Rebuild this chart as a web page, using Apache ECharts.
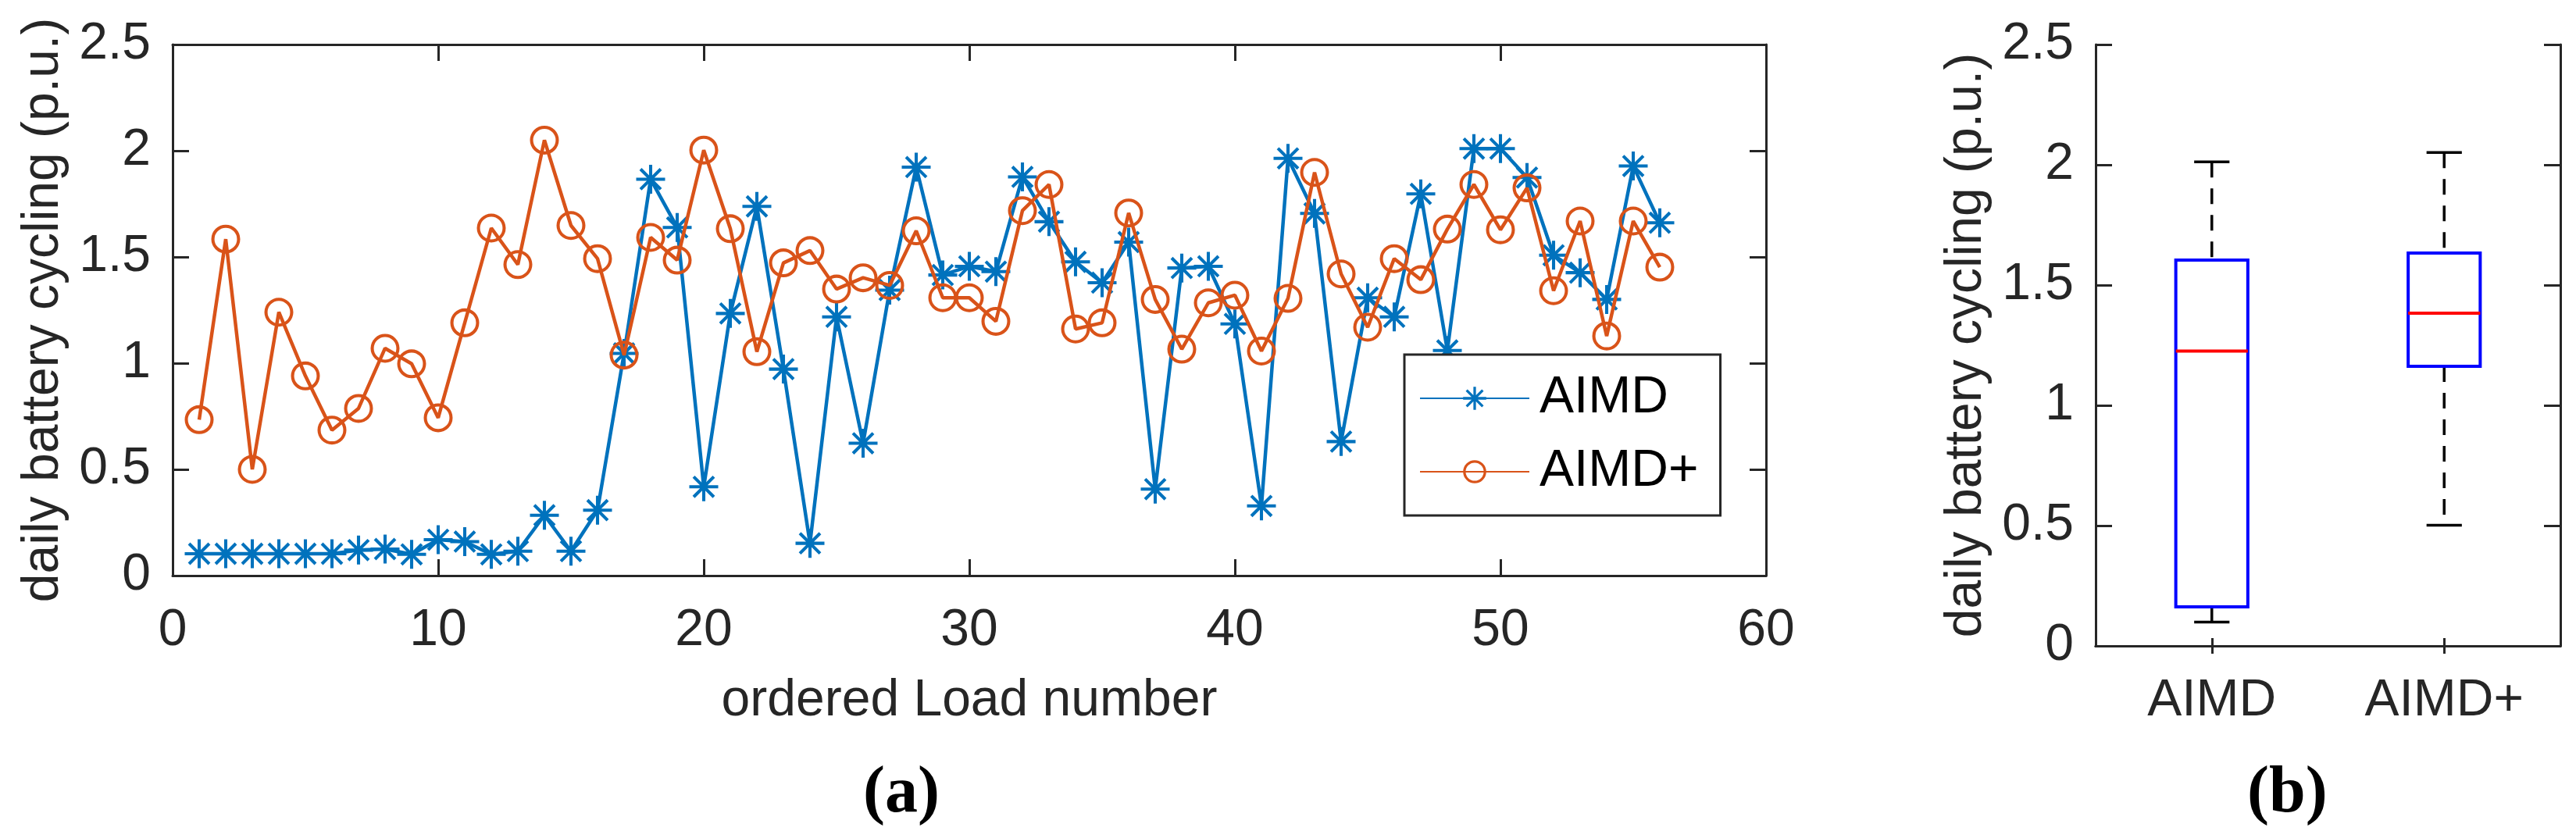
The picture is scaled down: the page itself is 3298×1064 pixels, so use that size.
<!DOCTYPE html>
<html>
<head>
<meta charset="utf-8">
<script src="https://cdn.jsdelivr.net/npm/echarts@6/dist/echarts.min.js"></script>
<style>
  html, body { margin: 0; padding: 0; background: #fff; }
  #chart { width: 3298px; height: 1064px; }
</style>
</head>
<body>
<div id="chart"></div>
<script>
// values
var loadNumbers = [];
for (var n = 1; n <= 56; n++) loadNumbers.push(n);

var aimd = [0.103, 0.103, 0.103, 0.103, 0.103, 0.103, 0.12, 0.125, 0.10, 0.169,
    0.16, 0.10, 0.115, 0.284, 0.115, 0.308, 1.046, 1.866, 1.639, 0.418,
    1.234, 1.738, 0.972, 0.152, 1.218, 0.623, 1.344, 1.923, 1.415, 1.456,
    1.431, 1.877, 1.666, 1.477, 1.379, 1.570, 0.407, 1.448, 1.456, 1.185,
    0.328, 1.964, 1.705, 0.631, 1.308, 1.218, 1.797, 1.06, 2.01, 2.01,
    1.874, 1.508, 1.426, 1.30, 1.928, 1.661];

var aimdPlus = [0.734, 1.584, 0.50, 1.24, 0.94, 0.685, 0.787, 1.07, 0.997, 0.743,
    1.19, 1.636, 1.464, 2.05, 1.648, 1.492, 1.038, 1.592, 1.485, 2.003,
    1.633, 1.054, 1.472, 1.53, 1.349, 1.402, 1.366, 1.623, 1.308, 1.308,
    1.197, 1.718, 1.841, 1.161, 1.190, 1.707, 1.30, 1.066, 1.284, 1.320,
    1.057, 1.305, 1.898, 1.420, 1.169, 1.492, 1.393, 1.631, 1.841, 1.628,
    1.825, 1.341, 1.669, 1.128, 1.669, 1.452];

var boxNames = ['AIMD', 'AIMD+'];
// [lower whisker, Q1, median, Q3, upper whisker]
var aimdBox = [0.099, 0.162, 1.226, 1.604, 2.012];
var aimdPlusBox = [0.502, 1.162, 1.383, 1.633, 2.051];

var xTicks = [0, 60, 10];   // min, max, step
var yTicks = [0, 2.5, 0.5];

var axisColor = '#262626';
var fontFamily = 'Liberation Sans, Arial, sans-serif';
var fontSize = 66;
var blue = '#0072BD';
var orange = '#D95319';

var starPath = 'path://M-1,-0.11L1,-0.11L1,0.11L-1,0.11Z' +
    'M-0.11,-1L0.11,-1L0.11,1L-0.11,1Z' +
    'M-0.622,-0.778L0.778,0.622L0.622,0.778L-0.778,-0.622Z' +
    'M-0.778,0.622L0.622,-0.778L0.778,-0.622L-0.622,0.778Z';
var ringPath = 'path://M1,0A1,1,0,1,1,-1,0A1,1,0,1,1,1,0Z' +
    'M0.78,0A0.78,0.78,0,1,0,-0.78,0A0.78,0.78,0,1,0,0.78,0Z';

function pairs(ys) {
    var out = [];
    for (var i = 0; i < ys.length; i++) out.push([loadNumbers[i], ys[i]]);
    return out;
}

function valueAxis(gridIndex, pos, opts) {
    var showLabel = pos === 'bottom' || pos === 'left';
    var ax = {
        type: 'value', gridIndex: gridIndex, position: pos,
        axisLine: { show: true, onZero: false, lineStyle: { color: axisColor, width: 3 } },
        axisTick: { show: true, inside: true, length: 21, lineStyle: { color: axisColor, width: 3 } },
        axisLabel: {
            show: showLabel, color: axisColor, fontFamily: fontFamily, fontSize: fontSize,
            margin: pos === 'bottom' ? 38 : 28
        },
        splitLine: { show: false }
    };
    for (var k in opts) ax[k] = opts[k];
    return ax;
}

var yLabelName = 'daily battery cycling (p.u.)';
var nameStyle = { color: axisColor, fontFamily: fontFamily, fontSize: fontSize };

var option = {
    backgroundColor: '#fff',
    animation: false,
    grid: [
        { left: 221, top: 57, width: 2040, height: 680 },
        { left: 2683, top: 57, width: 595, height: 770 }
    ],
    xAxis: [
        valueAxis(0, 'bottom', {
            min: xTicks[0], max: xTicks[1], interval: xTicks[2],
            name: 'ordered Load number', nameLocation: 'middle', nameGap: 128,
            nameTextStyle: nameStyle
        }),
        valueAxis(0, 'top', { min: xTicks[0], max: xTicks[1], interval: xTicks[2] }),
        {
            type: 'category', gridIndex: 1, position: 'bottom', data: boxNames,
            axisLine: { show: true, lineStyle: { color: axisColor, width: 3 } },
            axisTick: { show: true, inside: true, alignWithLabel: true, length: 10, lineStyle: { color: axisColor, width: 3 } },
            axisLabel: { color: axisColor, fontFamily: fontFamily, fontSize: fontSize, margin: 38 }
        },
        {
            type: 'category', gridIndex: 1, position: 'top', data: boxNames,
            axisLine: { show: true, lineStyle: { color: axisColor, width: 3 } },
            axisTick: { show: true, inside: true, alignWithLabel: true, length: 10, lineStyle: { color: axisColor, width: 3 } },
            axisLabel: { show: false }
        }
    ],
    yAxis: [
        valueAxis(0, 'left', {
            min: yTicks[0], max: yTicks[1], interval: yTicks[2],
            name: yLabelName, nameLocation: 'middle', nameGap: 132, nameTextStyle: nameStyle
        }),
        valueAxis(0, 'right', { min: yTicks[0], max: yTicks[1], interval: yTicks[2] }),
        valueAxis(1, 'left', {
            min: yTicks[0], max: yTicks[1], interval: yTicks[2],
            name: yLabelName, nameLocation: 'middle', nameGap: 132, nameTextStyle: nameStyle
        }),
        valueAxis(1, 'right', { min: yTicks[0], max: yTicks[1], interval: yTicks[2] })
    ],
    legend: {
        left: 1798, top: 454,
        orient: 'vertical',
        data: ['AIMD', 'AIMD+'],
        itemWidth: 140, itemHeight: 37, itemGap: 24,
        padding: [21, 28, 21, 19],
        borderColor: axisColor, borderWidth: 3,
        backgroundColor: '#fff',
        textStyle: { color: '#000', fontFamily: fontFamily, fontSize: 66, lineHeight: 70, padding: [0, 0, 0, 8] }
    },
    series: [
        {
            name: 'AIMD', type: 'line', xAxisIndex: 0, yAxisIndex: 0,
            data: pairs(aimd),
            symbol: starPath, symbolSize: 37,
            itemStyle: { color: blue },
            lineStyle: { color: blue, width: 4.5 },
            z: 3
        },
        {
            name: 'AIMD+', type: 'line', xAxisIndex: 0, yAxisIndex: 0,
            data: pairs(aimdPlus),
            symbol: ringPath, symbolSize: 37,
            itemStyle: { color: orange },
            lineStyle: { color: orange, width: 4.5 },
            z: 4
        },
        {
            type: 'custom', xAxisIndex: 2, yAxisIndex: 2,
            data: [[0].concat(aimdBox), [1].concat(aimdPlusBox)],
            encode: { x: 0, y: [1, 2, 3, 4, 5] },
            renderItem: function (params, api) {
                var idx = api.value(0);
                var lo = api.coord([idx, api.value(1)]);
                var q1 = api.coord([idx, api.value(2)]);
                var md = api.coord([idx, api.value(3)]);
                var q3 = api.coord([idx, api.value(4)]);
                var hi = api.coord([idx, api.value(5)]);
                var half = api.size([1, 0])[0] * 0.155;
                var cap = half * 0.49;
                var x = md[0];
                var dash = { stroke: '#000', lineWidth: 3.5, lineDash: [20, 14] };
                var solid = { stroke: '#000', lineWidth: 3.5 };
                return {
                    type: 'group',
                    children: [
                        { type: 'line', shape: { x1: x, y1: hi[1], x2: x, y2: q3[1] }, style: dash },
                        { type: 'line', shape: { x1: x, y1: q1[1], x2: x, y2: lo[1] }, style: dash },
                        { type: 'line', shape: { x1: x - cap, y1: hi[1], x2: x + cap, y2: hi[1] }, style: solid },
                        { type: 'line', shape: { x1: x - cap, y1: lo[1], x2: x + cap, y2: lo[1] }, style: solid },
                        {
                            type: 'rect',
                            shape: { x: x - half, y: q3[1], width: 2 * half, height: q1[1] - q3[1] },
                            style: { fill: 'none', stroke: '#0000FF', lineWidth: 4 }
                        },
                        {
                            type: 'line',
                            shape: { x1: x - half, y1: md[1], x2: x + half, y2: md[1] },
                            style: { stroke: '#FF0000', lineWidth: 4 }
                        }
                    ]
                };
            }
        }
    ],
    graphic: [
        {
            type: 'text', left: 1150 - 45, top: 975,
            style: { text: '(a)', font: 'bold 84px "Liberation Serif", "Times New Roman", serif', fill: '#000' }
        },
        {
            type: 'text', left: 2922 - 45, top: 975,
            style: { text: '(b)', font: 'bold 84px "Liberation Serif", "Times New Roman", serif', fill: '#000' }
        }
    ]
};

var chart = echarts.init(document.getElementById('chart'));
chart.setOption(option);
</script>
</body>
</html>
